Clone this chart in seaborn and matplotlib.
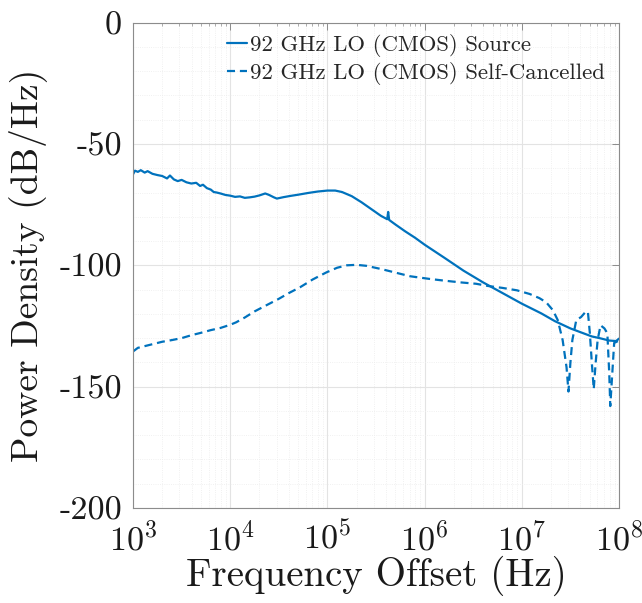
import numpy as np
import pandas as pd
import matplotlib
matplotlib.use("Agg")
import matplotlib.pyplot as plt
import seaborn as sns
from matplotlib.ticker import FixedLocator, FixedFormatter, LogLocator, NullFormatter

# Phase-noise spectra of the 92 GHz LO (log10 of offset frequency, dB/Hz)
source_logf = [3.00, 3.02, 3.05, 3.08, 3.12, 3.15, 3.20, 3.25, 3.30, 3.35, 3.38, 3.42,
               3.46, 3.50, 3.55, 3.60, 3.65, 3.69, 3.72, 3.76, 3.80, 3.83, 3.86, 3.90,
               3.95, 4.00, 4.05, 4.10, 4.15, 4.20, 4.25, 4.30, 4.36, 4.40, 4.45, 4.48,
               4.55, 4.62, 4.70, 4.80, 4.90, 5.00, 5.08, 5.15, 5.25, 5.35, 5.45, 5.55,
               5.615, 5.625, 5.635, 5.70, 5.80, 5.90, 6.00, 6.20, 6.40, 6.60, 6.80, 7.00,
               7.20, 7.34, 7.50, 7.60, 7.72, 7.80, 7.90, 7.97, 8.00]
source_db = [-62.5, -61.0, -61.5, -60.8, -61.8, -61.2, -62.3, -62.8, -63.2, -64.2, -63.0, -64.6,
             -65.3, -64.8, -65.8, -66.3, -66.0, -67.3, -66.8, -68.2, -68.8, -69.8, -70.0, -70.4,
             -71.0, -71.3, -71.8, -71.6, -72.2, -72.0, -71.7, -71.2, -70.4, -71.0, -72.0, -72.5,
             -71.9, -71.4, -70.9, -70.2, -69.6, -69.2, -69.2, -69.8, -71.5, -74.0, -76.8, -79.6,
             -81.0, -78.0, -81.3, -83.2, -86.0, -88.6, -91.5, -96.8, -102.2, -107.0, -111.4, -115.8,
             -119.8, -123.0, -126.0, -127.5, -129.3, -130.0, -131.0, -131.2, -130.2]

cancel_logf = [3.00, 3.05, 3.10, 3.20, 3.30, 3.40, 3.50, 3.60, 3.70, 3.80, 3.90, 4.00,
               4.06, 4.15, 4.25, 4.37, 4.50, 4.60, 4.72, 4.85, 4.99, 5.10, 5.20, 5.30,
               5.40, 5.55, 5.70, 5.85, 6.05, 6.20, 6.36, 6.53, 6.65, 6.80, 6.95, 7.08,
               7.18, 7.25, 7.32, 7.37, 7.42, 7.46, 7.48, 7.50, 7.52, 7.56, 7.61, 7.66,
               7.68, 7.70, 7.72, 7.74, 7.76, 7.78, 7.81, 7.85, 7.88, 7.90, 7.91, 7.93,
               7.95, 8.00]
cancel_db = [-135.5, -134.0, -133.5, -132.5, -131.5, -130.8, -130.0, -128.8, -127.8, -126.7, -125.8, -124.5,
             -123.5, -121.5, -119.0, -116.5, -113.8, -111.5, -109.0, -105.8, -102.9, -101.0, -100.0, -99.8,
             -100.2, -101.5, -103.0, -104.5, -105.6, -106.3, -107.0, -107.6, -108.5, -109.3, -110.3, -111.8,
             -113.5, -115.2, -118.5, -122.6, -130.8, -142.0, -152.0, -140.0, -130.8, -122.6, -121.3, -119.0,
             -119.2, -128.0, -140.0, -151.0, -140.0, -130.8, -124.7, -126.0, -128.0, -145.0, -158.0, -145.0,
             -132.0, -131.0]

series_names = ["92 GHz LO (CMOS) Source", "92 GHz LO (CMOS) Self-Cancelled"]

y_ticks = [0, -50, -100, -150, -200]
y_tick_labels = ["0", "-50", "-100", "-150", "-200"]
x_ticks = [1e3, 1e4, 1e5, 1e6, 1e7, 1e8]
x_tick_labels = [r"$10^{3}$", r"$10^{4}$", r"$10^{5}$", r"$10^{6}$", r"$10^{7}$", r"$10^{8}$"]

df = pd.concat([
    pd.DataFrame({"freq": np.power(10.0, source_logf), "db": source_db, "series": series_names[0]}),
    pd.DataFrame({"freq": np.power(10.0, cancel_logf), "db": cancel_db, "series": series_names[1]}),
], ignore_index=True)

sns.set_theme(style="white")
plt.rcParams["font.family"] = ["cmr10", "DejaVu Serif"]
plt.rcParams["mathtext.fontset"] = "cm"
plt.rcParams["axes.unicode_minus"] = False
plt.rcParams["axes.formatter.use_mathtext"] = True

blue = "#0072BD"
fig = plt.figure(figsize=(6.42, 6.03), dpi=100)
ax = fig.add_axes([0.2072, 0.1575, 0.757, 0.805])

sns.lineplot(data=df, x="freq", y="db", style="series", style_order=series_names,
             dashes={series_names[0]: "", series_names[1]: (3.6, 2.2)},
             color=blue, linewidth=1.6, estimator=None, sort=False, ax=ax)

ax.set_xscale("log")
ax.set_xlim(1e3, 1e8)
ax.set_ylim(-200, 0)

ax.xaxis.set_major_locator(FixedLocator(x_ticks))
ax.xaxis.set_major_formatter(FixedFormatter(x_tick_labels))
ax.xaxis.set_minor_locator(LogLocator(base=10, subs=np.arange(2, 10), numticks=20))
ax.xaxis.set_minor_formatter(NullFormatter())
ax.yaxis.set_major_locator(FixedLocator(y_ticks))
ax.yaxis.set_major_formatter(FixedFormatter(y_tick_labels))
ax.yaxis.set_minor_locator(FixedLocator(np.arange(-200, 1, 10)))

ax.grid(which="major", color="#e3e3e3", linewidth=0.8)
ax.grid(which="minor", color="#ececec", linewidth=0.6, linestyle=":")
ax.set_axisbelow(True)

for side in ["left", "right", "top", "bottom"]:
    ax.spines[side].set_visible(True)
    ax.spines[side].set_color("#8c8c8c")
    ax.spines[side].set_linewidth(0.8)

ax.tick_params(which="both", direction="in", top=True, right=True, colors="#8c8c8c",
               labelcolor="#1a1a1a")
ax.tick_params(which="major", length=5, width=0.7, labelsize=24.5)
ax.tick_params(axis="x", which="major", pad=9)
ax.tick_params(axis="y", which="major", pad=8)
ax.tick_params(which="minor", length=2.5, width=0.5)
ax.tick_params(axis="y", which="minor", length=0)

ax.set_xlabel("Frequency Offset (Hz)", fontsize=28, color="#1a1a1a", labelpad=0)
ax.set_ylabel("Power Density (dB/Hz)", fontsize=27, color="#1a1a1a", labelpad=9)

leg = ax.legend(loc="upper left", bbox_to_anchor=(0.165, 1.005), frameon=False, fontsize=16.4,
                handlelength=0.9, handletextpad=0.1, labelspacing=0.22, borderaxespad=0.2)
for h in leg.get_lines():
    h.set_color(blue)
    h.set_linewidth(1.6)

fig.savefig("out.png", dpi=100)
